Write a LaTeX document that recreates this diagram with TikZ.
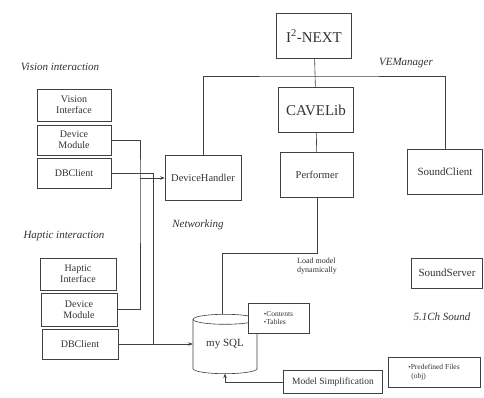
\documentclass[tikz,border=0pt]{standalone}
\usepackage{fontspec}
\setmainfont{Liberation Serif}
\usetikzlibrary{arrows.meta}
\begin{document}
\begin{tikzpicture}[x=1pt,y=-1pt,
  box/.style={draw=black!75,line width=0.6pt,fill=white,inner sep=1pt,align=center,text=black!80},
  lbl/.style={font=\itshape\fontsize{11}{12}\selectfont,text=black!80,inner sep=0pt},
  ln/.style={draw=black!75,line width=0.6pt},
  arr/.style={ln,-{Stealth[length=4.5pt,width=3.5pt]}}]
\useasboundingbox[fill=white] (0,0) rectangle (484,398);
% top
\node[box,minimum width=75pt,minimum height=45pt,font=\fontsize{15}{16}\selectfont] (inext) at (314,36) {I\textsuperscript{2}-NEXT};
\node[box,minimum width=75pt,minimum height=45pt,font=\fontsize{15}{16}\selectfont] (cave) at (316,110) {CAVELib};
\node[box,minimum width=76pt,minimum height=45pt,font=\fontsize{10.5}{12}\selectfont] (devh) at (203,178) {DeviceHandler};
\node[box,minimum width=73pt,minimum height=45pt,font=\fontsize{10.5}{12}\selectfont] (perf) at (317,175) {Performer};
\node[box,minimum width=75pt,minimum height=45pt,font=\fontsize{11}{12}\selectfont] (sclient) at (445,172) {SoundClient};
\node[box,minimum width=71pt,minimum height=30pt,font=\fontsize{11}{12}\selectfont] (sserver) at (447,273) {SoundServer};
% labels
\node[lbl] (vem) at (406,63) {VEManager};
\node[lbl] (netw) at (198,225) {Networking};
\node[lbl] (snd) at (442,317) {5.1Ch Sound};
\node[lbl] (vis) at (60,67) {Vision interaction};
\node[lbl] (hap) at (64,236) {Haptic interaction};
\node[font=\fontsize{8}{9}\selectfont,align=left,text=black!80,inner sep=0pt] (load) at (317,266) {Load model\\dynamically};
% left boxes
\node[box,minimum width=74pt,minimum height=32pt,font=\fontsize{10}{11}\selectfont] (vint) at (74,105) {Vision\\Interface};
\node[box,minimum width=74pt,minimum height=30pt,font=\fontsize{10}{11}\selectfont] (vdm) at (74,140) {Device\\Module};
\node[box,minimum width=74pt,minimum height=30pt,font=\fontsize{10}{11}\selectfont] (vdb) at (74,173) {DBClient};
\node[box,minimum width=76pt,minimum height=32pt,font=\fontsize{10}{11}\selectfont] (hint) at (78,274) {Haptic\\Interface};
\node[box,minimum width=76pt,minimum height=33pt,font=\fontsize{10}{11}\selectfont] (hdm) at (79,309.5) {Device\\Module};
\node[box,minimum width=76pt,minimum height=30pt,font=\fontsize{10}{11}\selectfont] (hdb) at (80,344) {DBClient};
% mysql cylinder
\node[minimum width=64pt,minimum height=59pt,inner sep=0pt,font=\fontsize{11}{12}\selectfont,text=black!80] (mysql) at (225,344) {my SQL};
\path (mysql.north) ++(0,5) coordinate (ct);
\path (mysql.south) ++(0,-5) coordinate (cb);
\draw[ln] ([xshift=-32pt]ct) -- ([xshift=-32pt]cb) arc[start angle=180,end angle=360,x radius=32pt,y radius=5pt] -- ([xshift=32pt]ct);
\draw[ln] (ct) ellipse [x radius=32pt,y radius=5pt];
\node[box,minimum width=61pt,minimum height=30pt,align=left,font=\fontsize{7.5}{8.5}\selectfont] (cont) at (278.5,318) {{\scriptsize\textbullet}Contents\\{\scriptsize\textbullet}Tables};
\node[box,minimum width=99pt,minimum height=23pt,font=\fontsize{9.5}{11}\selectfont] (msimp) at (333,382) {Model Simplification};
\node[box,minimum width=92pt,minimum height=30pt,align=left,font=\fontsize{7.5}{8.5}\selectfont] (predef) at (434,372) {{\scriptsize\textbullet}Predefined Files\\\hspace*{3pt}(obj)};
% connectors top
\coordinate (bus) at (314,76);
\draw[ln] (inext) -- (cave);
\draw[ln] (devh.north) |- (bus) -| (sclient.north);
\draw[ln] (cave) -- (perf);
\coordinate (ld) at (222,253);
\draw[ln] (perf.south) |- (ld) -- (ld |- mysql.north);
% left connectors
\coordinate (dmx) at (140,178);
\coordinate (dbx) at (153,344);
\draw[ln] (vdm.east) -| (dmx) |- (hdm.east);
\draw[arr] (dmx) -- (devh.west);
\draw[ln] (vdb.east) -| (dbx);
\draw[arr] (hdb.east) -- (mysql.west);
\draw[arr] (msimp.west) -| (mysql.south);
\end{tikzpicture}
\end{document}
